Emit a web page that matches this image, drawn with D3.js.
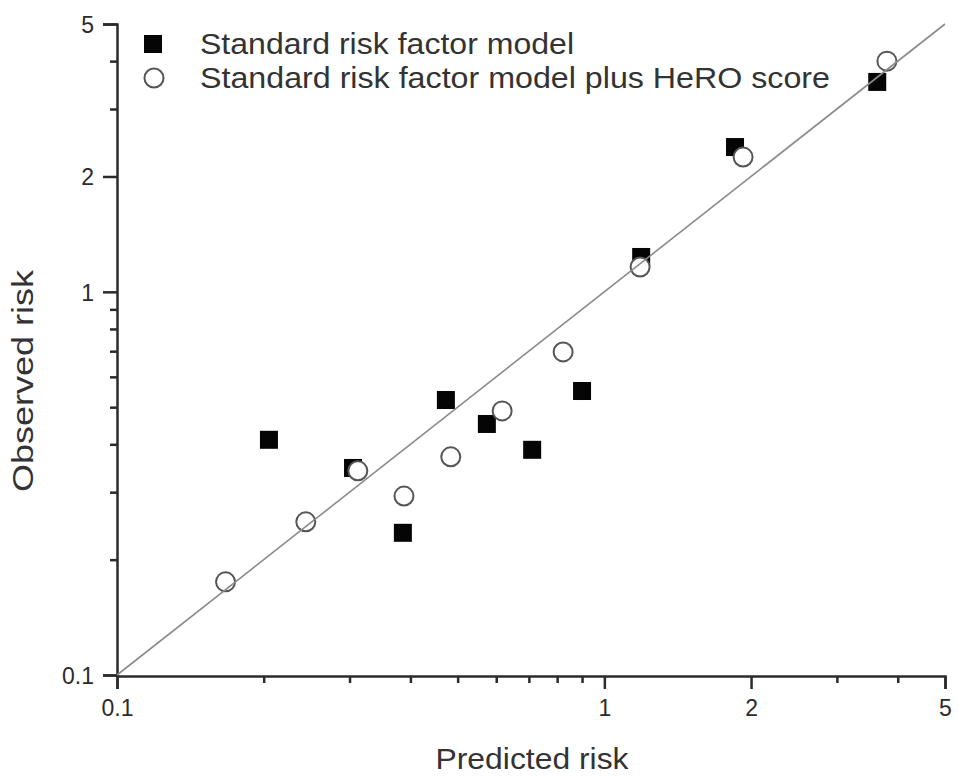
<!DOCTYPE html>
<html>
<head>
<meta charset="utf-8">
<script src="https://cdn.jsdelivr.net/npm/d3@7"></script>
<style>
  html, body { margin: 0; padding: 0; background: #fff; }
  svg { display: block; font-family: "Liberation Sans", Arial, sans-serif; }
</style>
</head>
<body>
<svg id="chart" width="958" height="779"></svg>
<script>
// Data
const standardPredicted = [0.205, 0.305, 0.386, 0.473, 0.574, 0.711, 0.900, 1.19, 1.854, 3.63];
const standardObserved  = [0.411, 0.347, 0.235, 0.522, 0.452, 0.387, 0.551, 1.233, 2.387, 3.53];
const heroPredicted = [0.167, 0.244, 0.312, 0.388, 0.484, 0.617, 0.823, 1.184, 1.926, 3.80];
const heroObserved  = [0.175, 0.251, 0.341, 0.293, 0.371, 0.489, 0.697, 1.161, 2.247, 4.00];
const axisMin = 0.1, axisMax = 5;
const majorTicks = [0.1, 1, 2, 5];
const minorTicks = [0.2, 0.3, 0.4, 0.5, 0.6, 0.7, 0.8, 0.9, 3, 4];
const seriesNames = ["Standard risk factor model", "Standard risk factor model plus HeRO score"];
const xTitle = "Predicted risk";
const yTitle = "Observed risk";

const svg = d3.select("#chart");
const mLeft = 117, mRight = 945, mTop = 24, mBottom = 675;

const x = d3.scaleLog().domain([axisMin, axisMax]).range([mLeft, mRight]);
const y = d3.scaleLog().domain([axisMin, axisMax]).range([mBottom, mTop]);

const axisColor = "#2b2b2b";
const fmt = d => String(d);

// X axis
const gx = svg.append("g").attr("transform", `translate(0,${mBottom + 1})`);
gx.call(d3.axisBottom(x).tickValues(majorTicks).tickFormat(fmt).tickSize(13).tickPadding(11));
gx.append("g").call(d3.axisBottom(x).tickValues(minorTicks).tickFormat("").tickSize(7))
  .select(".domain").remove();
// Y axis
const gy = svg.append("g").attr("transform", `translate(${mLeft},0)`);
gy.call(d3.axisLeft(y).tickValues(majorTicks).tickFormat(fmt).tickSize(14).tickPadding(9));
gy.append("g").call(d3.axisLeft(y).tickValues(minorTicks).tickFormat("").tickSize(7))
  .select(".domain").remove();

[gx, gy].forEach(g => {
  g.selectAll(".domain").attr("stroke", axisColor).attr("stroke-width", 2.5);
  g.selectAll("line").attr("stroke", axisColor).attr("stroke-width", 2.5);
  g.selectAll("text").attr("fill", "#2b2b2b").style("font-size", "23px")
    .style("font-family", "'Liberation Sans', Arial, sans-serif");
});
gx.selectAll(".tick text").attr("dy", "0.71em");
gy.selectAll(".tick text").attr("dy", "0.36em");

// Points: squares
const sq = 18;
svg.append("g").selectAll("rect")
  .data(standardPredicted.map((p, i) => [p, standardObserved[i]]))
  .join("rect")
  .attr("x", d => x(d[0]) - sq / 2)
  .attr("y", d => y(d[1]) - sq / 2)
  .attr("width", sq).attr("height", sq)
  .attr("fill", "#050505");

// Points: circles
svg.append("g").selectAll("circle")
  .data(heroPredicted.map((p, i) => [p, heroObserved[i]]))
  .join("circle")
  .attr("cx", d => x(d[0]))
  .attr("cy", d => y(d[1]))
  .attr("r", 9.5)
  .attr("fill", "#fff")
  .attr("stroke", "#555")
  .attr("stroke-width", 2);

// Identity line
svg.append("line")
  .attr("x1", x(axisMin)).attr("y1", y(axisMin))
  .attr("x2", x(axisMax)).attr("y2", y(axisMax))
  .attr("stroke", "#8a8a8a").attr("stroke-width", 1.6);

// Legend
const legend = svg.append("g");
legend.append("rect").attr("x", 144).attr("y", 35).attr("width", sq).attr("height", sq).attr("fill", "#050505");
legend.append("circle").attr("cx", 154).attr("cy", 78).attr("r", 9.5)
  .attr("fill", "#fff").attr("stroke", "#555").attr("stroke-width", 2);
legend.append("text").attr("x", 200).attr("y", 54).text(seriesNames[0])
  .attr("fill", "#333").style("font-size", "29px")
  .attr("textLength", 374).attr("lengthAdjust", "spacingAndGlyphs");
legend.append("text").attr("x", 200).attr("y", 88).text(seriesNames[1])
  .attr("fill", "#333").style("font-size", "29px")
  .attr("textLength", 630).attr("lengthAdjust", "spacingAndGlyphs");

// Axis titles
svg.append("text").attr("x", 532).attr("y", 769).attr("text-anchor", "middle")
  .text(xTitle).attr("fill", "#333").style("font-size", "29px")
  .attr("textLength", 193).attr("lengthAdjust", "spacingAndGlyphs");
svg.append("text").attr("transform", "translate(33,381) rotate(-90)").attr("text-anchor", "middle")
  .text(yTitle).attr("fill", "#333").style("font-size", "29px")
  .attr("textLength", 222).attr("lengthAdjust", "spacingAndGlyphs");
</script>
</body>
</html>
